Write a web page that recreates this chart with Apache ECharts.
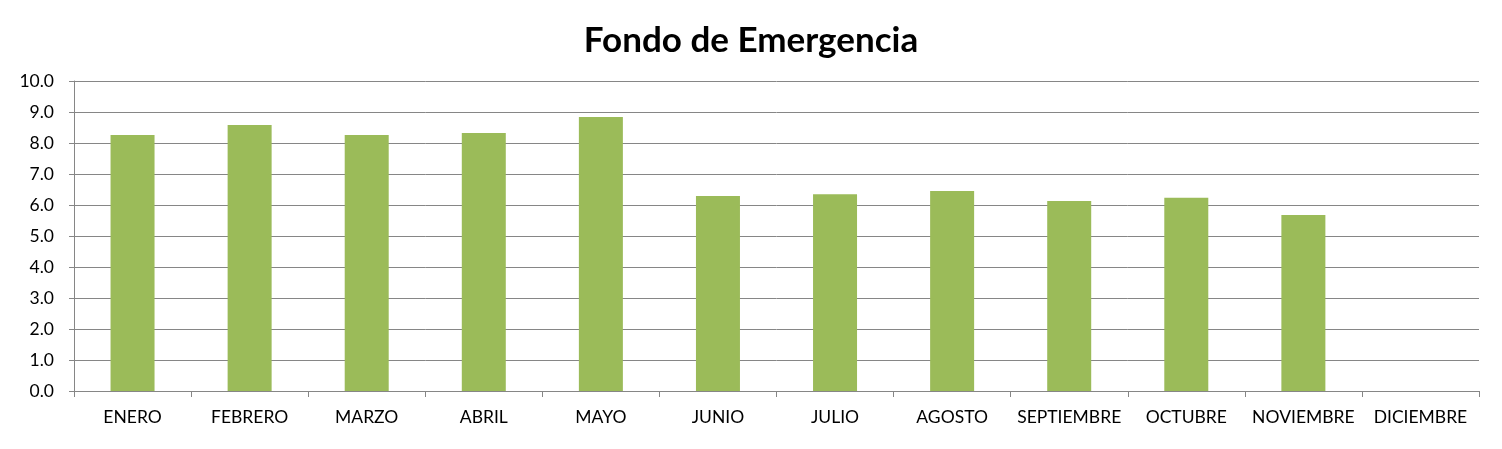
<!DOCTYPE html>
<html>
<head>
<meta charset="utf-8">
<script src="https://cdn.jsdelivr.net/npm/echarts@6/dist/echarts.min.js"></script>
<style>html,body{margin:0;padding:0;background:#fff;}#c{width:1502px;height:449px;}</style>
</head>
<body>
<div id="c"></div>
<script>
const categories = ['ENERO','FEBRERO','MARZO','ABRIL','MAYO','JUNIO','JULIO','AGOSTO','SEPTIEMBRE','OCTUBRE','NOVIEMBRE','DICIEMBRE'];
const values = [8.26, 8.58, 8.26, 8.32, 8.84, 6.29, 6.35, 6.45, 6.13, 6.23, 5.68, null];
const titleText = 'Fondo de Emergencia';

const chart = echarts.init(document.getElementById('c'), null, {renderer: 'canvas'});
chart.setOption({
  animation: false,
  backgroundColor: '#ffffff',
  title: {
    text: titleText,
    left: 'center',
    top: 18,
    textStyle: {fontFamily: 'Lato', fontWeight: 'bold', fontSize: 35, color: '#000'}
  },
  grid: {left: 74, right: 23, top: 81, bottom: 58},
  xAxis: {
    type: 'category',
    data: categories,
    axisLine: {lineStyle: {color: '#868686', width: 1}},
    axisTick: {show: true, length: 6, lineStyle: {color: '#868686'}},
    axisLabel: {fontFamily: 'Lato', fontSize: 17.5, color: '#000', margin: 17, interval: 0}
  },
  yAxis: {
    type: 'value',
    min: 0, max: 10, interval: 1,
    axisLine: {show: true, lineStyle: {color: '#868686', width: 1}},
    axisTick: {show: true, length: 5, lineStyle: {color: '#868686'}},
    splitLine: {lineStyle: {color: '#868686', width: 1}},
    axisLabel: {fontFamily: 'Lato', fontSize: 17.5, color: '#000', margin: 20,
      formatter: v => v.toFixed(1)}
  },
  series: [{
    type: 'bar',
    data: values,
    barWidth: 44,
    itemStyle: {color: '#9BBB59'}
  }]
});
</script>
</body>
</html>
